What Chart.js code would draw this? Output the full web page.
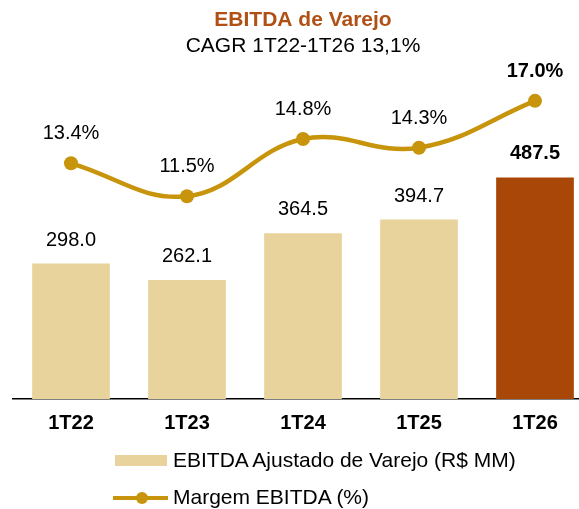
<!DOCTYPE html>
<html>
<head>
<meta charset="utf-8">
<script src="https://cdn.jsdelivr.net/npm/chart.js@4.4.1/dist/chart.umd.min.js"></script>
<style>
  body { margin: 0; overflow: hidden; background: #fff; font-family: "Liberation Sans", Arial, sans-serif; }
  #wrap { position: relative; width: 579px; height: 509px; overflow: hidden; }
  #myChart { position: absolute; left: 0; top: 0; }
  .leg { position: absolute; left: 0; font-size: 21px; color: #000; white-space: nowrap; }
  .legBox { position: absolute; left: 115px; top: 455px; width: 52px; height: 11px; }
  .legLine { position: absolute; left: 113px; top: 496px; width: 55px; height: 4px; }
  .legDot { position: absolute; left: 136px; top: 492px; width: 12px; height: 12px; border-radius: 50%; }
</style>
</head>
<body>
<div id="wrap">
  <canvas id="myChart" width="600" height="509"></canvas>
  <div class="legBox" id="legBox"></div>
  <div class="leg" id="legText1" style="left:173px; top:448px;"></div>
  <div class="legLine" id="legLine"></div>
  <div class="legDot" id="legDot"></div>
  <div class="leg" id="legText2" style="left:173px; top:485px;"></div>
</div>
<script>
const categories = ["1T22", "1T23", "1T24", "1T25", "1T26"];
const ebitdaValues = [298.0, 262.1, 364.5, 394.7, 487.5];
const marginValues = [13.4, 11.5, 14.8, 14.3, 17.0];
const seriesNames = ["EBITDA Ajustado de Varejo (R$ MM)", "Margem EBITDA (%)"];
const titleText = "EBITDA de Varejo";
const subtitleText = "CAGR 1T22-1T26 13,1%";

const barColor = "#E8D39C";
const barHighlight = "#A84708";
const lineColor = "#C8940C";
const fontFamily = "'Liberation Sans', Arial, sans-serif";

// legend (html)
document.getElementById("legBox").style.background = barColor;
document.getElementById("legLine").style.background = lineColor;
document.getElementById("legDot").style.background = lineColor;
document.getElementById("legText1").textContent = seriesNames[0];
document.getElementById("legText2").textContent = seriesNames[1];

const lastIndex = categories.length - 1;

// value labels above bars and points
const valueLabels = {
  id: "valueLabels",
  afterDatasetsDraw(chart) {
    const ctx = chart.ctx;
    ctx.save();
    ctx.textAlign = "center";
    ctx.textBaseline = "middle";
    ctx.fillStyle = "#000";
    chart.data.datasets.forEach(function (ds, di) {
      const meta = chart.getDatasetMeta(di);
      meta.data.forEach(function (el, i) {
        const bold = i === lastIndex ? "bold " : "";
        ctx.font = bold + "20px " + fontFamily;
        if (ds.type === "bar") {
          ctx.fillText(ds.data[i].toFixed(1), el.x, el.y - 23.5);
        } else {
          ctx.fillText(ds.data[i].toFixed(1) + "%", el.x, el.y - 29.5);
        }
      });
    });
    ctx.restore();
  },
};

const ctx = document.getElementById("myChart").getContext("2d");
const myChart = new Chart(ctx, {
  data: {
    labels: categories,
    datasets: [
      {
        type: "line",
        label: seriesNames[1],
        data: marginValues,
        yAxisID: "y2",
        borderColor: lineColor,
        backgroundColor: lineColor,
        borderWidth: 4.5,
        pointRadius: 7,
        pointHoverRadius: 7,
        pointBackgroundColor: lineColor,
        pointBorderWidth: 0,
        tension: 0.4,
        order: 0,
      },
      {
        type: "bar",
        label: seriesNames[0],
        data: ebitdaValues,
        yAxisID: "y",
        backgroundColor: ebitdaValues.map(function (v, i) {
          return i === lastIndex ? barHighlight : barColor;
        }),
        barPercentage: 0.67,
        categoryPercentage: 1,
        order: 1,
      },
    ],
  },
  options: {
    responsive: false,
    animation: false,
    devicePixelRatio: 1,
    layout: { padding: { left: 13, right: 7, top: 0, bottom: 62 } },
    plugins: {
      legend: { display: false },
      tooltip: { enabled: false },
      title: {
        display: true,
        text: titleText,
        color: "#B05014",
        font: { family: fontFamily, size: 21, weight: "bold", lineHeight: 1.2 },
        padding: { top: 8, bottom: 0 },
      },
      subtitle: {
        display: true,
        text: subtitleText,
        color: "#000",
        font: { family: fontFamily, size: 21, lineHeight: 1.2 },
        padding: { top: 0, bottom: 2 },
      },
    },
    scales: {
      x: {
        grid: { display: false, drawTicks: false },
        border: { display: true, color: "#000", width: 1.5 },
        ticks: {
          color: "#000",
          padding: 12,
          font: { family: fontFamily, size: 20, weight: "bold", lineHeight: 1.2 },
        },
      },
      y: {
        display: false,
        min: 0,
        max: 745,
      },
      y2: {
        display: false,
        min: -0.18,
        max: 19.33,
      },
    },
  },
  plugins: [valueLabels],
});
</script>
</body>
</html>
